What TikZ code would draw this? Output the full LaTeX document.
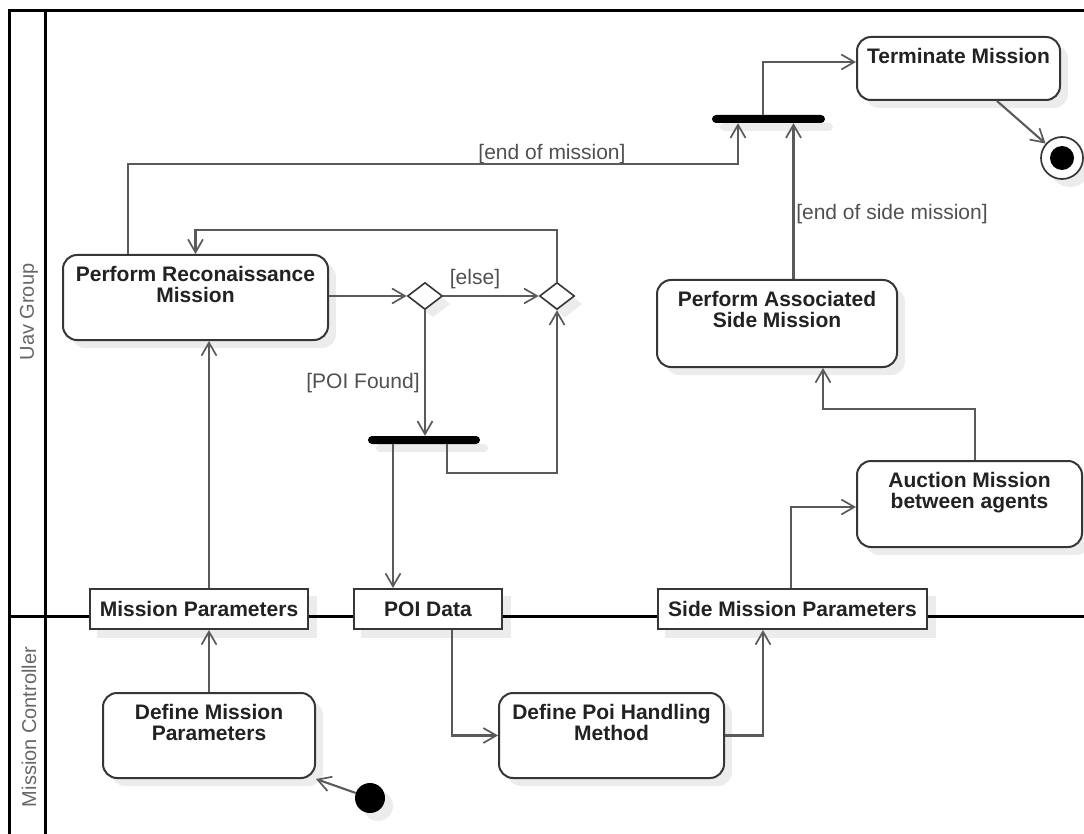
\documentclass[tikz,border=0pt]{standalone}
\usepackage{fontspec}
\setmainfont{Liberation Sans}
\usetikzlibrary{arrows.meta,shapes.geometric,shadows,calc}
\definecolor{edgec}{HTML}{5A5A5A}
\definecolor{nodec}{HTML}{363636}
\definecolor{txtc}{HTML}{222222}
\definecolor{lblc}{HTML}{505050}
\definecolor{titlec}{HTML}{666666}
\definecolor{shadowc}{HTML}{ECECEC}
\pgfdeclarelayer{bg}
\pgfsetlayers{bg,main}
\begin{document}
\begin{tikzpicture}[x=1pt,y=-1pt,
  shd/.style={drop shadow={shadow xshift=8pt,shadow yshift=-8pt,fill=shadowc,opacity=1}},
  act/.style={draw=nodec,line width=2pt,rounded corners=14pt,fill=white,shd,inner sep=0pt},
  obj/.style={draw=nodec,line width=2pt,fill=white,inner sep=0pt,font=\bfseries\fontsize{21}{21}\selectfont,text=txtc},
  acttext/.style={anchor=north,align=center,inner sep=0pt,font=\bfseries\fontsize{21}{21}\selectfont,text=txtc},
  syncbar/.style={fill=black,rounded corners=4pt,inner sep=0pt,minimum height=8pt,shd},
  dec/.style={diamond,draw=nodec,line width=1.6pt,fill=white,inner sep=0pt,minimum width=35pt,minimum height=27pt,shd},
  flow/.style={draw=edgec,line width=2.1pt,-{Straight Barb[length=13pt,width=15pt,line width=1.7pt]}},
  guard/.style={text=lblc,font=\fontsize{21}{21}\selectfont,inner sep=0pt},
  lane/.style={line width=3pt,draw=black},
  lanetitle/.style={text=titlec,font=\fontsize{20}{20}\selectfont,rotate=90,inner sep=0pt}
]
\useasboundingbox (0,0) rectangle (1084,834);

% lane titles
\node[lanetitle] (uav) at (29,312) {Uav Group};
\node[lanetitle] (mc) at (29,727) {Mission Controller};

% activities
\node[act,minimum width=203pt,minimum height=63pt] (term) at (958.5,68.5) {};
\node[acttext] (term-t) at ([yshift=-12.5pt]term.north) {Terminate Mission};

\node[act,minimum width=265pt,minimum height=85pt] (recon) at (195.5,297.5) {};
\node[acttext] (recon-t) at ([yshift=-12.5pt]recon.north) {Perform Reconaissance\\Mission};

\node[act,minimum width=240pt,minimum height=87pt] (assoc) at (777,323.5) {};
\node[acttext] (assoc-t) at ([yshift=-12.5pt]assoc.north) {Perform Associated\\Side Mission};

\node[act,minimum width=225pt,minimum height=86pt] (auction) at (969.5,504) {};
\node[acttext] (auction-t) at ([yshift=-12.5pt]auction.north) {Auction Mission\\between agents};

\node[act,minimum width=212pt,minimum height=85pt] (defmp) at (209,735.5) {};
\node[acttext] (defmp-t) at ([yshift=-12.5pt]defmp.north) {Define Mission\\Parameters};

\node[act,minimum width=225pt,minimum height=85pt] (defpoi) at (611.5,735.5) {};
\node[acttext] (defpoi-t) at ([yshift=-12.5pt]defpoi.north) {Define Poi Handling\\Method};

% objects
\node[obj,minimum width=218pt,minimum height=40pt] (mparams) at (199,609) {Mission Parameters};
\node[obj,minimum width=148pt,minimum height=40pt] (poi) at (428,609) {POI Data};
\node[obj,minimum width=269pt,minimum height=40pt] (smparams) at (792.5,609) {Side Mission Parameters};

% control nodes
\node[dec] (d1) at (425,296) {};
\node[dec] (d2) at (557,296) {};
\node[syncbar,minimum width=113pt] (bar1) at (768.5,119) {};
\node[syncbar,minimum width=112pt] (bar2) at (424,440) {};
\node[circle,fill=black,inner sep=0pt,minimum size=30pt,shd] (init) at (370,798) {};
\node[circle,draw=nodec,line width=1.7pt,fill=white,inner sep=0pt,minimum size=42pt,shd] (final) at (1062,158) {};
\node[circle,fill=black,inner sep=0pt,minimum size=24pt] (final-in) at (final) {};

% background: object shadows and swimlanes
\begin{pgfonlayer}{bg}
  \foreach \n in {mparams,poi,smparams}{
    \fill[shadowc] ([shift={(8pt,-8pt)}]\n.south west) rectangle ([shift={(8pt,-8pt)}]\n.north east);
  }
  \draw[lane] (9,840) -- (9,11) -- (1090,11);
  \draw[lane] (45,11) -- (45,840);
  \draw[lane] (9,616) -- (1090,616);
\end{pgfonlayer}

% connectors
\draw[flow] (init) -- (defmp.south east);
\draw[flow] (defmp.north) -- (defmp.north |- mparams.south);
\draw[flow] (defmp.north |- mparams.north) -- (defmp.north |- recon.south);
\draw[flow] (recon.east |- d1) -- (d1.west);
\draw[flow] (d1.east) -- (d2.west);
\node[guard] (else) at (475,279) {[else]};
\draw[flow] (d1.south) -- (d1.south |- bar2.north);
\node[guard] (poifound) at (363,383) {[POI Found]};
\draw[flow] ([xshift=-31pt]bar2.south) -- ([xshift=-31pt]bar2.south |- poi.north);
\draw[flow] ([xshift=23pt]bar2.south) -- ++(0,29) -| (d2.south);
\draw[flow] (d2.north) -- ++(0,-52) -| (recon.north);
\draw[flow] ([xshift=-67.5pt]recon.north) -- ++(0,-90) -| ([xshift=-30.5pt]bar1.south);
\node[guard,anchor=base] (eom) at (552,160) {[end of mission]};
\coordinate (b1r) at ([xshift=25pt]bar1.south);
\draw[flow] (b1r |- assoc.north) -- (b1r);
\node[guard] (eosm) at (892,214) {[end of side mission]};
\draw[flow] ([xshift=-5.5pt]bar1.north) |- ([yshift=6.5pt]term.west);
\draw[flow] ([xshift=38.5pt]term.south) -- (final);
\draw[flow] ([xshift=24pt]poi.south) |- (defpoi.west);
\draw[flow] (defpoi.east) -| ([xshift=-29.5pt]smparams.south);
\draw[flow] ([xshift=-1.5pt]smparams.north) |- ([yshift=-3pt]auction.west);
\draw[flow] ([xshift=5.5pt]auction.north) -- ++(0,-51) -| ([xshift=46pt]assoc.south);
\end{tikzpicture}
\end{document}
